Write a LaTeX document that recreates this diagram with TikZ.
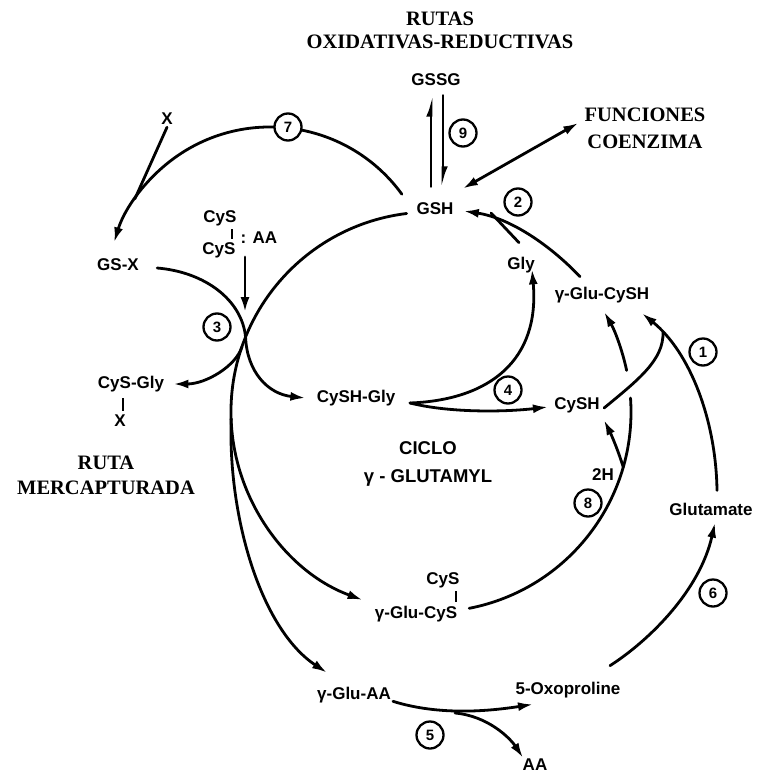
\documentclass[tikz,border=0pt]{standalone}
\usepackage{fontspec}
\setmainfont{Liberation Serif}
\newfontfamily\labfont{Liberation Sans}
\usetikzlibrary{arrows.meta,calc}
\begin{document}
\begin{tikzpicture}[x=1pt,y=-1pt,line width=2.8pt,line cap=round,
  lbl/.style={font=\labfont\bfseries\fontsize{17}{19}\selectfont, inner sep=1pt},
  ttl/.style={align=center, inner sep=0pt},
  num/.style={circle, draw, fill=white, line width=2.3pt, minimum size=27pt, inner sep=0pt, font=\labfont\bfseries\fontsize{15}{15}\selectfont},
  arr/.style={-{Latex[length=15pt,width=9pt]}},
  dbl/.style={{Latex[length=15pt,width=9pt]}-{Latex[length=15pt,width=9pt]}},
  harp/.style={-{Latex[left,length=15pt,width=10pt]}},
  bond/.style={line width=2.3pt, line cap=butt},
]
\useasboundingbox (0,0) rectangle (758,776);

% ---------- titles ----------
\node[ttl, font=\bfseries\fontsize{20.5}{23}\selectfont] (rutas) at (440,30) {RUTAS\\OXIDATIVAS-REDUCTIVAS};
\node[ttl, font=\bfseries\fontsize{20.5}{27}\selectfont] (fun) at (645,128) {FUNCIONES\\COENZIMA};
\node[ttl, font=\bfseries\fontsize{20.5}{25}\selectfont] (merc) at (106,475) {RUTA\\MERCAPTURADA};
\node[ttl, font=\labfont\bfseries\fontsize{18.5}{28}\selectfont] (ciclo) at (428,464) {CICLO\\γ - GLUTAMYL};

% ---------- labels ----------
\node[lbl] (gssg) at (436,80) {GSSG};
\node[lbl] (gsh) at (435,209) {GSH};
\node[lbl] (x1) at (167,119) {X};
\node[lbl] (gsx) at (118,265) {GS-X};
\node[lbl] (cys1) at (220,218) {CyS};
\node[lbl] (cys2) at (219,250) {CyS};
\node[lbl] (aa1) at (259,238) {: AA};
\node[lbl] (cysgly) at (131,384) {CyS-Gly};
\node[lbl] (x2) at (120,421) {X};
\node[lbl] (cyshgly) at (356,398) {CySH-Gly};
\node[lbl] (gly) at (521,265) {Gly};
\node[lbl] (gglucysh) at (602,295) {γ-Glu-CySH};
\node[lbl] (cysh) at (577,405) {CySH};
\node[lbl] (h2) at (603,475) {2H};
\node[lbl] (glut) at (711,509) {Glutamate};
\node[lbl] (cys3) at (443,580) {CyS};
\node[lbl] (gglucys) at (416,614) {γ-Glu-CyS};
\node[lbl] (ggluaa) at (354,695) {γ-Glu-AA};
\node[lbl] (oxo) at (568,690) {5-Oxoproline};
\node[lbl] (aa2) at (535,765) {AA};

% ---------- bonds ----------
\draw[bond] ([xshift=12pt,yshift=-1pt]cys1.south) -- ([xshift=13pt,yshift=1pt]cys2.north);
\draw[bond] ([xshift=-8pt,yshift=-4pt]cysgly.south) -- ([xshift=3pt,yshift=2pt]x2.north);
\draw[bond] ([xshift=13pt,yshift=-1pt]cys3.south) -- ([xshift=40pt,yshift=2pt]gglucys.north);

% ---------- coordinates ----------
\coordinate (C) at (431,412);          % centre of the cycle
\coordinate (c7) at (270,290);         % centre of arc 7
\coordinate (k3) at ($(C)+(202:200)$); % touching point near 3
\coordinate (bcg) at ($(C)+(199:200)$);
\coordinate (baa) at ($(C)+(178:200)$);
\coordinate (b2h) at ($(C)+(16:200)$);
\coordinate (jx) at ($(c7)+(-146:163)$);
\coordinate (hl) at (431,0);
\coordinate (hr) at (443,0);
\coordinate (cgs) at (410,403);
\coordinate (jg) at (491,213);
\coordinate (jh) at (663,332);
\coordinate (j5) at (455,713);
\coordinate (aas) at (245,257);
\coordinate (aae) at (245,312);

% ---------- GSSG / GSH ----------
\draw[harp, shorten <=14pt, shorten >=7pt] (gsh.north -| hl) -- (gssg.south -| hl);
\draw[harp, shorten <=7pt, shorten >=13pt] (gssg.south -| hr) -- (gsh.north -| hr);
\draw[dbl] ([shift={(7,-12)}]gsh.north east) -- ([shift={(-5,-5)}]fun.west);

% ---------- reaction 7 ----------
\draw[arr] ($(c7)+(-36:163)$) arc[start angle=-36, end angle=-163, radius=163];
\draw (x1.south) -- (jx);

% ---------- reaction 3 ----------
\draw[arr] (aas) -- (aae);
\draw[arr] ([xshift=16pt,yshift=-3pt]gsx.east) .. controls (205,272) and (242,300) .. (k3)
   .. controls (247,372) and (268,394) .. ([xshift=-9pt]cyshgly.west);

% ---------- the cycle ----------
\draw[arr] ($(C)+(263:200)$) arc[start angle=263, end angle=110, radius=200];
\draw ($(C)+(79:200)$) arc[start angle=79, end angle=-4, radius=200];
\draw[arr] ($(C)+(-12:200)$) arc[start angle=-12, end angle=-30, radius=200];
\draw[arr] (bcg) .. controls (236,366) and (206,384) .. ([xshift=7pt]cysgly.east);
\draw[arr] (baa) .. controls (228,520) and (262,630) .. ([xshift=-27pt,yshift=12pt]ggluaa.north);
\draw[arr] (b2h) .. controls (617,447) and (610,432) .. ([xshift=27pt,yshift=-5pt]cysh.south);

% ---------- reaction 4 ----------
\draw[arr] (cgs) .. controls (450,413) and (505,412) .. ([xshift=-4pt,yshift=-2pt]cysh.west);
\draw[arr] (cgs) .. controls (490,400) and (540,360) .. ([xshift=11pt,yshift=6pt]gly.south);

% ---------- reaction 2 ----------
\draw[arr] ([xshift=-22pt,yshift=8pt]gglucysh.north) .. controls (550,245) and (510,218) .. ([xshift=8pt,yshift=-2pt]gsh.east);
\draw ([xshift=-2pt,yshift=12pt]gly.north) -- (jg);

% ---------- reaction 1 ----------
\draw ([xshift=2pt,yshift=-3pt]cysh.east) .. controls (638,380) and (664,360) .. (jh);
\draw[arr] ([xshift=6pt,yshift=10pt]glut.north) .. controls (716,420) and (690,352) .. ([xshift=40pt,yshift=-8pt]gglucysh.south);

% ---------- reactions 5 and 6 ----------
\draw[arr] ([xshift=39pt,yshift=4pt]ggluaa.south) .. controls (440,716) and (490,711) .. ([xshift=-35pt,yshift=-4pt]oxo.south);
\draw[arr] (j5) .. controls (488,716) and (510,738) .. ([xshift=-12pt,yshift=-1pt]aa2.north);
\draw[arr] ([xshift=42pt,yshift=14pt]oxo.north) .. controls (650,640) and (700,590) .. ([xshift=4pt,yshift=-5pt]glut.south);

% ---------- enzyme numbers ----------
\node[num] (n1) at (703,352) {1};
\node[num] (n2) at (518,202) {2};
\node[num] (n3) at (217,327) {3};
\node[num] (n4) at (508,390) {4};
\node[num] (n5) at (430,735) {5};
\node[num] (n6) at (713,593) {6};
\node[num] (n7) at (288,127) {7};
\node[num] (n8) at (588,503) {8};
\node[num] (n9) at (463,133) {9};
\end{tikzpicture}
\end{document}
